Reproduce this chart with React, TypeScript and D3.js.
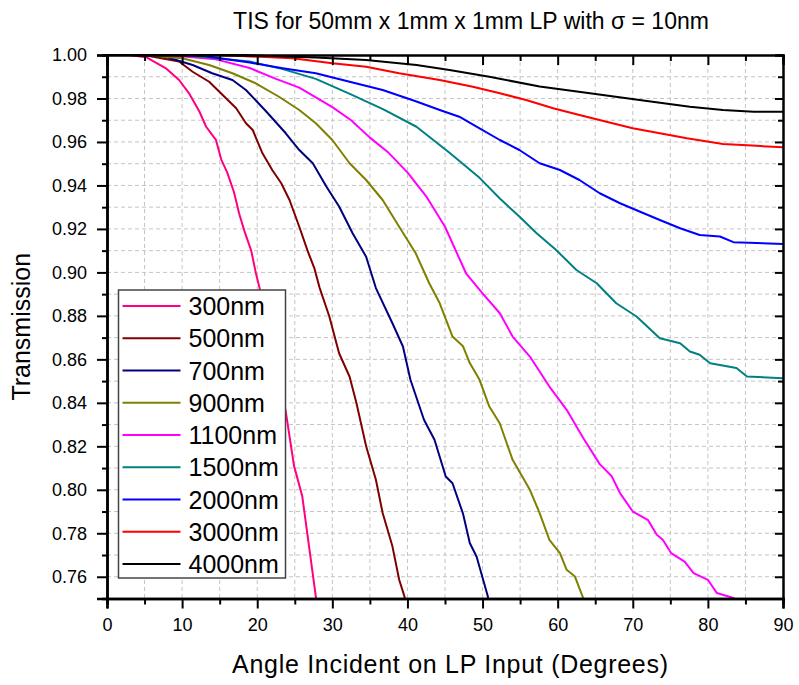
import React, { useEffect, useRef } from 'react';
import * as d3 from 'd3';

// wavelengths (legend order)
const wavelengths = ['300nm', '500nm', '700nm', '900nm', '1100nm', '1500nm', '2000nm', '3000nm', '4000nm'];
const colors = ['#FF0080', '#800000', '#000080', '#808000', '#FF00FF', '#008080', '#0000FF', '#FF0000', '#000000'];

// [angle (deg), transmission]
const t300 = [[0, 1], [3, 1], [5.2, 0.999], [7.8, 0.994], [9.6, 0.9885], [10.9, 0.9825], [12.3, 0.974], [13.2, 0.967], [14.5, 0.961], [15.2, 0.952], [16, 0.946], [16.9, 0.937], [17.6, 0.927], [18.3, 0.919], [19.2, 0.91], [19.8, 0.9], [20.3, 0.893], [22, 0.864], [23.8, 0.836], [24.9, 0.811], [26, 0.797], [26.7, 0.779], [27.8, 0.751], [28, 0.746]];
const t500 = [[0, 1], [3, 1], [5.6, 0.9995], [9.6, 0.997], [11.4, 0.9923], [13.6, 0.9877], [15.4, 0.9816], [17.2, 0.9755], [18.5, 0.9686], [19.4, 0.9655], [20.7, 0.9548], [22, 0.9471], [23.2, 0.941], [24.3, 0.9333], [25.6, 0.921], [26.7, 0.91], [27.6, 0.902], [28.3, 0.893], [29.6, 0.8797], [30.9, 0.8628], [32.3, 0.852], [33.2, 0.84], [34.5, 0.82], [35.8, 0.8046], [36.7, 0.7893], [38, 0.774], [38.9, 0.7586], [39.6, 0.751], [39.8, 0.746]];
const t700 = [[0, 1], [4, 1], [7.8, 0.9992], [11.4, 0.9954], [14, 0.9916], [16.7, 0.9885], [18.5, 0.9839], [21.2, 0.974], [23.8, 0.964], [25.6, 0.9563], [27.4, 0.9502], [29.2, 0.9395], [30.9, 0.9303], [32.7, 0.918], [34.5, 0.9072], [35.8, 0.8928], [38, 0.8766], [39.4, 0.8659], [40.4, 0.8506], [42.2, 0.8322], [43.6, 0.823], [45.1, 0.8061], [46, 0.803], [47.4, 0.789], [48.3, 0.7755], [49.2, 0.7693], [50.7, 0.751], [50.9, 0.746]];
const t900 = [[0, 1], [5, 1], [10, 0.9985], [13.6, 0.9954], [16.7, 0.9916], [19.8, 0.987], [22.9, 0.9808], [25.6, 0.9747], [27.8, 0.9686], [30, 0.9609], [32.3, 0.9502], [34.5, 0.9425], [36.7, 0.9333], [38.9, 0.921], [41.1, 0.9088], [42.9, 0.895], [44.3, 0.8858], [46, 0.8705], [47.4, 0.866], [48.3, 0.8583], [49.6, 0.8506], [50.9, 0.8383], [52.3, 0.8305], [54, 0.8138], [56.3, 0.8], [57.6, 0.7893], [58.9, 0.777], [60.3, 0.7709], [61.2, 0.7632], [62.3, 0.7601], [63.4, 0.7502], [63.6, 0.746]];
const t1100 = [[0, 1], [8, 1], [14.5, 0.998], [19, 0.994], [22.5, 0.989], [25.6, 0.985], [30, 0.976], [32.5, 0.97], [35, 0.962], [37.5, 0.955], [40, 0.946], [42.5, 0.935], [45, 0.921], [47.8, 0.8996], [50, 0.8904], [52.3, 0.8812], [54, 0.8705], [56.3, 0.8613], [58.9, 0.8475], [61.2, 0.8368], [63.4, 0.8238], [65.6, 0.8118], [67.2, 0.8062], [68.3, 0.7985], [70, 0.79], [72, 0.7862], [73.2, 0.7793], [74, 0.777], [75.1, 0.7709], [76.9, 0.767], [78.1, 0.7617], [80, 0.7586], [81.2, 0.7525], [83.4, 0.7502], [84, 0.749]];
const t1500 = [[0, 1], [10, 1], [19, 0.997], [23.4, 0.9935], [27.8, 0.989], [32.4, 0.982], [36.8, 0.975], [41.2, 0.967], [45.6, 0.955], [49.6, 0.9435], [52.3, 0.934], [54.9, 0.9257], [57.2, 0.918], [59.8, 0.9103], [62.5, 0.9011], [65.2, 0.895], [67.8, 0.8858], [70.5, 0.8797], [73.6, 0.8697], [76.3, 0.8674], [77.6, 0.8636], [78.9, 0.8621], [80.3, 0.8582], [83.8, 0.856], [85.2, 0.8521], [90, 0.8513]];
const t2000 = [[0, 1], [12, 1], [19, 0.9965], [23.4, 0.9939], [27.8, 0.9916], [32.3, 0.9877], [36.7, 0.9839], [41.2, 0.9786], [44.3, 0.9747], [46.9, 0.9716], [49.6, 0.9663], [52.3, 0.9609], [54.9, 0.9563], [57.6, 0.9502], [60.3, 0.9471], [62.9, 0.9425], [65.6, 0.9364], [68.3, 0.9318], [70.9, 0.928], [73.6, 0.9241], [76.3, 0.9203], [78.9, 0.9172], [81.6, 0.9165], [83.4, 0.9139], [90, 0.9131]];
const t3000 = [[0, 1], [15, 1], [24.7, 0.9985], [30, 0.9962], [34.5, 0.9946], [38.9, 0.9916], [44.3, 0.9885], [48.7, 0.9854], [52.3, 0.9824], [55.8, 0.9793], [59.4, 0.9755], [62.9, 0.9724], [66.5, 0.9693], [70, 0.9663], [73.6, 0.964], [77.2, 0.9617], [82, 0.9591], [86.5, 0.9582], [90, 0.9576]];
const t4000 = [[0, 1], [18, 1], [27.8, 0.9989], [34.5, 0.9977], [41.2, 0.9954], [45.6, 0.9931], [50.9, 0.99], [57.6, 0.9855], [64.3, 0.9824], [70.9, 0.9793], [77.6, 0.9762], [82, 0.9747], [86.1, 0.9739], [90, 0.9739]];
const seriesValues = [t300, t500, t700, t900, t1100, t1500, t2000, t3000, t4000];

const xMajorTicks = [0, 10, 20, 30, 40, 50, 60, 70, 80, 90];
const xMinorTicks = [5, 15, 25, 35, 45, 55, 65, 75, 85];
const yMajorTicks = [0.76, 0.78, 0.8, 0.82, 0.84, 0.86, 0.88, 0.9, 0.92, 0.94, 0.96, 0.98, 1.0];
const yMinorTicks = [0.75, 0.77, 0.79, 0.81, 0.83, 0.85, 0.87, 0.89, 0.91, 0.93, 0.95, 0.97, 0.99];

const App = () => {
  const svgRef = useRef();

  useEffect(() => {
    document.body.style.margin = '0';
    const width = 799;
    const height = 685;
    const margin = { top: 55, right: 16, bottom: 86.5, left: 107 };
    const w = width - margin.left - margin.right;
    const h = height - margin.top - margin.bottom;
    const font = '"Liberation Sans", Arial, sans-serif';

    const svg = d3.select(svgRef.current);
    svg.selectAll('*').remove();
    svg.attr('width', width).attr('height', height).style('font-family', font);

    svg.append('rect').attr('width', width).attr('height', height).attr('fill', '#fff');

    const g = svg.append('g').attr('transform', `translate(${margin.left},${margin.top})`);

    const x = d3.scaleLinear().domain([0, 90]).range([0, w]);
    const y = d3.scaleLinear().domain([0.75, 1.0]).range([h, 0]);

    // grid
    const grid = g.append('g').attr('stroke', '#c4c4c4').attr('stroke-dasharray', '4,3').attr('stroke-width', 1);
    grid.selectAll('.vg')
      .data(xMajorTicks.concat(xMinorTicks).filter(d => d > 0 && d < 90))
      .enter().append('line')
      .attr('x1', d => x(d)).attr('x2', d => x(d))
      .attr('y1', 0).attr('y2', h);
    grid.selectAll('.hg')
      .data(yMajorTicks.concat(yMinorTicks).filter(d => d > 0.75 && d < 1))
      .enter().append('line')
      .attr('y1', d => y(d)).attr('y2', d => y(d))
      .attr('x1', 0).attr('x2', w);

    // curves
    svg.append('defs').append('clipPath').attr('id', 'plotclip')
      .append('rect').attr('x', 0).attr('y', -2).attr('width', w).attr('height', h + 2);

    const line = d3.line().x(d => x(d[0])).y(d => y(d[1]));
    g.append('g').attr('clip-path', 'url(#plotclip)')
      .selectAll('path')
      .data(seriesValues)
      .enter().append('path')
      .attr('d', d => line(d))
      .attr('fill', 'none')
      .attr('stroke', (d, i) => colors[i])
      .attr('stroke-width', 2)
      .attr('stroke-linejoin', 'round');

    const styleAxis = (sel, sw) => {
      sel.select('.domain').attr('stroke', '#000').attr('stroke-width', sw);
      sel.selectAll('.tick line').attr('stroke', '#000').attr('stroke-width', 2);
      sel.selectAll('text').attr('font-size', 18).attr('fill', '#000').attr('font-family', font);
    };

    // bottom
    g.append('g').attr('transform', `translate(0,${h})`)
      .call(d3.axisBottom(x).tickValues(xMinorTicks).tickSize(6).tickFormat(''))
      .call(s => styleAxis(s, 2.5));
    g.append('g').attr('transform', `translate(0,${h})`)
      .call(d3.axisBottom(x).tickValues(xMajorTicks).tickSize(10).tickPadding(10).tickFormat(d3.format('d')))
      .call(s => styleAxis(s, 2.5));

    // left
    g.append('g')
      .call(d3.axisLeft(y).tickValues(yMinorTicks).tickSize(5).tickFormat(''))
      .call(s => styleAxis(s, 2.5));
    g.append('g')
      .call(d3.axisLeft(y).tickValues(yMajorTicks).tickSize(10).tickPadding(10).tickFormat(d3.format('.2f')))
      .call(s => styleAxis(s, 2.5));

    // top (ticks inward)
    g.append('g')
      .call(d3.axisTop(x).tickValues(xMinorTicks).tickSize(-6).tickFormat(''))
      .call(s => styleAxis(s, 2));
    g.append('g')
      .call(d3.axisTop(x).tickValues(xMajorTicks).tickSize(-10).tickFormat(''))
      .call(s => styleAxis(s, 2));

    // right (ticks inward)
    g.append('g').attr('transform', `translate(${w},0)`)
      .call(d3.axisRight(y).tickValues(yMinorTicks).tickSize(-5).tickFormat(''))
      .call(s => styleAxis(s, 2));
    g.append('g').attr('transform', `translate(${w},0)`)
      .call(d3.axisRight(y).tickValues(yMajorTicks).tickSize(-8).tickFormat(''))
      .call(s => styleAxis(s, 2));

    // legend
    const legend = g.append('g').attr('transform', `translate(${118.5 - margin.left},${290 - margin.top})`);
    legend.append('rect')
      .attr('width', 167).attr('height', 288)
      .attr('fill', '#fff').attr('stroke', '#444').attr('stroke-width', 1.5);
    const rows = legend.selectAll('.row')
      .data(wavelengths)
      .enter().append('g')
      .attr('transform', (d, i) => `translate(0,${16 + i * 32.25})`);
    rows.append('line')
      .attr('x1', 4).attr('x2', 62)
      .attr('stroke', (d, i) => colors[i]).attr('stroke-width', 2);
    rows.append('text')
      .attr('x', 70).attr('y', 9)
      .attr('font-size', 25).attr('fill', '#000')
      .text(d => d);

    // titles
    svg.append('text')
      .attr('x', 471).attr('y', 29)
      .attr('text-anchor', 'middle').attr('font-size', 23)
      .text('TIS for 50mm x 1mm x 1mm LP with σ = 10nm');
    svg.append('text')
      .attr('x', 450).attr('y', 673)
      .attr('text-anchor', 'middle').attr('font-size', 25)
      .attr('textLength', 436).attr('lengthAdjust', 'spacing')
      .text('Angle Incident on LP Input (Degrees)');
    svg.append('text')
      .attr('transform', `translate(30,${margin.top + h / 2}) rotate(-90)`)
      .attr('text-anchor', 'middle').attr('font-size', 25)
      .text('Transmission');
  }, []);

  return (
    <div>
      <svg ref={svgRef} style={{ display: 'block' }}></svg>
    </div>
  );
};

export default App;
